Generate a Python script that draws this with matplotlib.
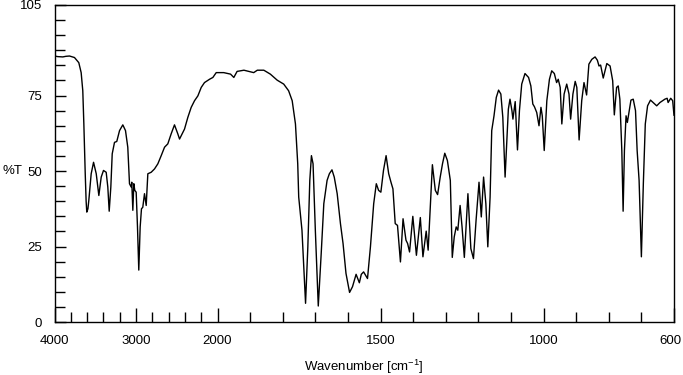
import numpy as np
import matplotlib
matplotlib.use('Agg')
import matplotlib.pyplot as plt
import matplotlib.transforms as mtransforms

plt.rcParams['font.family'] = ['Liberation Sans', 'DejaVu Sans']
plt.rcParams['mathtext.fontset'] = 'custom'
plt.rcParams['mathtext.rm'] = 'Liberation Sans'
plt.rcParams['mathtext.it'] = 'Liberation Sans:italic'

# IR spectrum: wavenumber [cm-1] and %T
wavenumber = [
    4000, 3960, 3898, 3860, 3816, 3755, 3702, 3673, 3653, 3640, 3623, 3612, 3604, 3590,
    3579, 3550, 3521, 3488, 3456, 3427, 3399, 3366, 3346, 3329, 3309, 3292, 3264, 3236,
    3202, 3162, 3129, 3101, 3080, 3059, 3052, 3039, 3027, 3015, 2998, 2982, 2966, 2949,
    2933, 2917, 2896, 2875, 2855, 2814, 2773, 2732, 2691, 2650, 2610, 2569, 2528, 2487,
    2466, 2405, 2364, 2323, 2282, 2241, 2200, 2160, 2098, 2057, 2016,
    1981, 1960, 1950, 1940, 1919, 1889, 1878, 1858, 1838, 1817, 1797, 1782, 1771, 1761,
    1754, 1751, 1741, 1730, 1723, 1717, 1712, 1707, 1700, 1691, 1682, 1674, 1664, 1657,
    1649, 1642, 1633, 1623, 1615, 1606, 1595, 1586, 1575, 1565, 1559, 1552, 1540, 1531,
    1521, 1513, 1506, 1499, 1491, 1483, 1475, 1468, 1462, 1455, 1448, 1439, 1431, 1422,
    1417, 1411, 1401, 1390, 1378, 1370, 1360, 1354, 1348, 1341, 1332, 1325, 1317, 1310,
    1303, 1295, 1286, 1280, 1274, 1268, 1263, 1256, 1250, 1243, 1232, 1223, 1215, 1207,
    1198, 1191, 1184, 1177, 1171, 1164, 1159, 1152, 1145, 1138, 1131, 1125, 1118, 1113,
    1108, 1103, 1097, 1094, 1087, 1080, 1074, 1067, 1057, 1046, 1039, 1033, 1028, 1021,
    1014, 1008, 1004, 998, 990, 982, 975, 967, 960, 955, 949, 944, 937, 929, 922, 917,
    910, 903, 898, 891, 883, 876, 868, 861, 852, 842, 835, 830, 825, 817, 806, 796, 788,
    783, 776, 771, 766, 760, 756, 752, 747, 743, 738, 732, 725, 718, 713, 707, 700, 694,
    688, 681, 672, 664, 653, 643, 628, 621, 618, 610, 604, 600,
]
transmittance = [
    88.1, 87.9, 87.8, 88.0, 88.1, 87.6, 85.9, 82.6, 76.6, 65.6, 49.1, 40.0, 36.4, 37.5,
    40.3, 49.1, 52.9, 49.1, 41.9, 48.0, 50.2, 49.6, 44.7, 36.7, 44.7, 55.7, 59.5, 59.8,
    63.4, 65.3, 63.4, 57.9, 45.8, 44.7, 46.3, 37.0, 45.8, 43.6, 43.0, 31.5, 17.2, 31.5,
    37.5, 38.0, 42.5, 38.6, 49.1, 49.6, 50.7, 52.4, 55.1, 57.9, 59.0, 62.3, 65.3, 62.3,
    60.6, 63.9, 67.8, 71.1, 73.3, 74.9, 77.7, 79.3, 80.4, 81.0, 82.6,
    82.6, 82.1, 81.0, 83.0, 83.4, 82.6, 83.4, 83.4, 82.1, 80.1, 78.8, 76.6, 73.3, 65.6,
    52.4, 41.4, 30.4, 6.2, 24.9, 46.9, 55.1, 52.4, 30.4, 5.3, 22.7, 39.2, 46.9, 49.1,
    50.4, 48.0, 42.5, 32.6, 26.0, 16.1, 9.8, 11.7, 15.8, 13.0, 15.8, 16.6, 14.4, 24.9,
    39.2, 45.8, 43.6, 43.0, 50.2, 55.1, 49.1, 46.3, 44.1, 32.6, 32.0, 19.9, 34.2, 27.1,
    26.0, 23.2, 35.0, 22.1, 34.6, 21.6, 30.1, 23.8, 37.0, 52.1, 43.6, 42.2, 48.0, 52.4,
    55.9, 53.5, 46.9, 21.4, 28.2, 31.5, 30.4, 38.6, 31.5, 21.4, 42.5, 24.3, 21.0, 33.7,
    46.3, 34.8, 48.0, 39.2, 24.9, 41.4, 63.4, 68.3, 74.4, 76.8, 75.5, 67.8, 48.0, 59.0,
    70.5, 73.8, 70.0, 67.2, 73.0, 57.0, 70.0, 78.8, 82.3, 81.0, 78.2, 72.2, 71.3, 69.4,
    65.0, 71.1, 68.3, 56.8, 73.3, 80.4, 83.2, 82.3, 79.3, 80.4, 77.7, 65.6, 75.5, 78.8,
    75.5, 67.2, 75.5, 79.7, 77.7, 60.3, 73.3, 79.3, 75.2, 85.4, 87.0, 87.8, 86.7, 84.8,
    85.1, 80.8, 85.6, 84.8, 79.9, 68.6, 77.7, 78.2, 73.8, 56.8, 36.7, 56.8, 68.3, 66.1,
    69.4, 73.5, 73.8, 70.0, 56.8, 46.9, 21.6, 45.8, 65.6, 71.6, 73.5, 72.7, 71.6, 72.7,
    73.8, 74.1, 72.7, 74.1, 73.3, 68.5,
]

x_ticks = [4000, 3000, 2000, 1500, 1000, 600]
x_minor = [3800, 3600, 3400, 3200, 2800, 2600, 2400, 2200,
           1900, 1800, 1700, 1600, 1400, 1300, 1200, 1100, 900, 800, 700]
y_ticks = [0, 25, 50, 75, 105]
y_minor = [5, 10, 15, 20, 30, 35, 40, 45, 55, 60, 65, 70, 80, 85, 90, 95, 100]


# below 2000 cm-1 the axis is stretched 4x
def fwd(w):
    w = np.asarray(w, dtype=float)
    return np.where(w > 2000, w + 6000, 4 * w)


def inv(u):
    u = np.asarray(u, dtype=float)
    return np.where(u > 8000, u - 6000, u / 4)


fig = plt.figure(figsize=(6.83, 3.75), dpi=100)
ax = fig.add_axes([0.0798, 0.1413, 0.9070, 0.8454])

ax.plot(wavenumber, transmittance, color='black', lw=1.0)

ax.set_xscale('function', functions=(fwd, inv))
ax.set_xlim(4000, 600)
ax.set_ylim(0, 105)

ax.set_xticks(x_ticks)
ax.set_xticklabels([str(v) for v in x_ticks])
ax.set_xticks(x_minor, minor=True)
ax.set_yticks(y_ticks)
ax.set_yticklabels([str(v) for v in y_ticks])
ax.set_yticks(y_minor, minor=True)

ax.tick_params(axis='x', which='major', direction='in', length=10, width=1.0,
               labelsize=9.5, pad=9)
ax.tick_params(axis='x', which='minor', direction='in', length=7, width=1.0)
ax.tick_params(axis='y', which='major', direction='in', length=8, width=1.0,
               labelsize=9.5, pad=9)
ax.tick_params(axis='y', which='minor', direction='in', length=7, width=1.0)

# nudge the last label so it stays inside the picture
last = ax.get_xticklabels()[-1]
last.set_transform(last.get_transform() + mtransforms.ScaledTranslation(-4 / 100, 0, fig.dpi_scale_trans))

for sp in ax.spines.values():
    sp.set_linewidth(1.0)

ax.set_xlabel(r'Wavenumber [cm$^{\mathrm{-1}}$]', fontsize=9.5, labelpad=8)
ax.set_ylabel('%T', fontsize=9.5, rotation=0, ha='center', va='center')
ax.yaxis.set_label_coords(-0.068, 50 / 105)

fig.savefig('out.png', dpi=100)
